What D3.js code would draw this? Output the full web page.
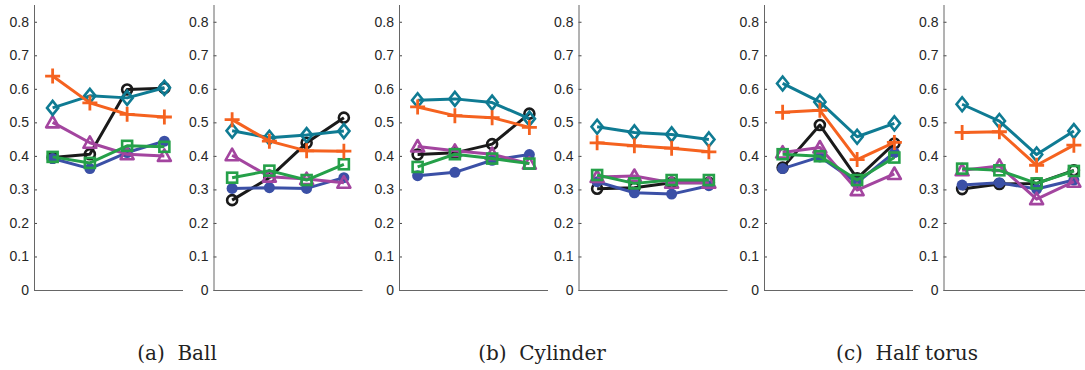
<!DOCTYPE html>
<html>
<head>
<meta charset="utf-8">
<script src="https://cdn.jsdelivr.net/npm/d3@7"></script>
<style>
  body { margin: 0; background: #fff; }
  svg { display: block; }
</style>
</head>
<body>
<div class="small-multiples"></div>
<script>
// data: one array per series, 6 panels x 4 points
const captions = ["(a)  Ball", "(b)  Cylinder", "(c)  Half torus"];
const yTicks = [0, 0.1, 0.2, 0.3, 0.4, 0.5, 0.6, 0.7, 0.8];
const xPoints = [1, 2, 3, 4];

const blackCircle = [
  [0.395, 0.405, 0.598, 0.602],
  [0.268, 0.335, 0.439, 0.514],
  [0.404, 0.409, 0.435, 0.526],
  [0.302, 0.305, 0.320, 0.320],
  [0.365, 0.492, 0.333, 0.437],
  [0.301, 0.316, 0.318, 0.357]
];
const blueDot = [
  [0.392, 0.362, 0.410, 0.444],
  [0.303, 0.305, 0.303, 0.335],
  [0.341, 0.351, 0.387, 0.404],
  [0.323, 0.290, 0.286, 0.311],
  [0.362, 0.397, 0.320, 0.410],
  [0.313, 0.320, 0.301, 0.328]
];
const purpleTriangle = [
  [0.500, 0.439, 0.405, 0.400],
  [0.402, 0.338, 0.331, 0.320],
  [0.428, 0.415, 0.405, 0.377],
  [0.337, 0.340, 0.320, 0.320],
  [0.410, 0.425, 0.298, 0.346],
  [0.357, 0.370, 0.271, 0.323]
];
const greenSquare = [
  [0.397, 0.379, 0.430, 0.427],
  [0.335, 0.356, 0.328, 0.375],
  [0.367, 0.405, 0.392, 0.377],
  [0.343, 0.318, 0.328, 0.328],
  [0.405, 0.399, 0.328, 0.395],
  [0.362, 0.357, 0.318, 0.355]
];
const tealDiamond = [
  [0.543, 0.579, 0.573, 0.603],
  [0.475, 0.454, 0.462, 0.474],
  [0.566, 0.570, 0.559, 0.511],
  [0.487, 0.470, 0.464, 0.449],
  [0.616, 0.561, 0.457, 0.497],
  [0.554, 0.504, 0.404, 0.474]
];
const orangePlus = [
  [0.638, 0.558, 0.524, 0.516],
  [0.508, 0.444, 0.415, 0.414],
  [0.546, 0.520, 0.514, 0.485],
  [0.439, 0.430, 0.423, 0.412],
  [0.530, 0.536, 0.389, 0.440],
  [0.470, 0.472, 0.372, 0.432]
];

// drawing order, bottom first
const series = [
  {values: blackCircle, color: '#1a1a1a', marker: 'circle'},
  {values: blueDot, color: '#3b50a6', marker: 'dot'},
  {values: purpleTriangle, color: '#a3459f', marker: 'triangle'},
  {values: greenSquare, color: '#25a049', marker: 'square'},
  {values: tealDiamond, color: '#0f7b93', marker: 'diamond'},
  {values: orangePlus, color: '#f5621f', marker: 'plus'}
];

const W = 1085, H = 370;
const panelW = 149, plotTop = 5, plotBottom = 290;

const svg = d3.select('.small-multiples')
    .append('svg')
    .attr('width', W)
    .attr('height', H);

const x = d3.scaleLinear().domain([0.5, 4.5]).range([0, panelW]);
const y = d3.scaleLinear().domain([0, 0.85]).range([plotBottom, plotTop]);

const line = d3.line()
    .x((d, i) => x(xPoints[i]))
    .y((d) => y(d));

function panelLeft(p) {
  const g = Math.floor(p / 2);
  return 34 + g * 365 + (p % 2) * 179.5;
}

function drawMarker(sel, type, color) {
  const sw = 2.6;
  switch (type) {
    case 'circle':
      sel.append('circle').attr('r', 5).attr('fill', 'none')
        .attr('stroke', color).attr('stroke-width', sw);
      break;
    case 'dot':
      sel.append('circle').attr('r', 5.5).attr('fill', color);
      break;
    case 'triangle':
      sel.append('path').attr('d', 'M0,-6.5L6.5,5L-6.5,5Z').attr('fill', 'none')
        .attr('stroke', color).attr('stroke-width', sw).attr('stroke-linejoin', 'round');
      break;
    case 'square':
      sel.append('rect').attr('x', -5).attr('y', -5).attr('width', 10).attr('height', 10)
        .attr('fill', 'none').attr('stroke', color).attr('stroke-width', sw);
      break;
    case 'diamond':
      sel.append('path').attr('d', 'M0,-7L5.6,0L0,7L-5.6,0Z').attr('fill', 'none')
        .attr('stroke', color).attr('stroke-width', sw);
      break;
    case 'plus':
      sel.append('path').attr('d', 'M-7.5,0H7.5M0,-7.5V7.5').attr('fill', 'none')
        .attr('stroke', color).attr('stroke-width', 2.8);
      break;
  }
}

for (let p = 0; p < 6; p++) {
  const g = svg.append('g')
      .attr('transform', `translate(${panelLeft(p)},0)`);

  // y axis
  const yAxis = d3.axisLeft(y)
      .tickValues(yTicks)
      .tickSize(-3)
      .tickPadding(5)
      .tickFormat((d) => d === 0 ? '0' : d3.format('.1f')(d));

  g.append('g')
      .attr('class', 'axis y-axis')
      .call(yAxis)
      .call(g => g.select('.domain').remove())
      .call(g => g.selectAll('.tick line').attr('stroke', '#444'))
      .call(g => g.selectAll('.tick text')
        .attr('fill', '#262626')
        .attr('font-family', 'Liberation Sans, Arial, sans-serif')
        .attr('font-size', 14));

  g.append('line')
      .attr('x1', 0.5).attr('x2', 0.5)
      .attr('y1', plotTop).attr('y2', plotBottom)
      .attr('stroke', '#666').attr('stroke-width', 1);
  g.append('line')
      .attr('x1', 0).attr('x2', panelW)
      .attr('y1', plotBottom + 0.5).attr('y2', plotBottom + 0.5)
      .attr('stroke', '#666').attr('stroke-width', 1);

  series.forEach((s) => {
    const vals = s.values[p];
    g.append('path')
        .datum(vals)
        .attr('fill', 'none')
        .attr('stroke', s.color)
        .attr('stroke-width', 3)
        .attr('stroke-linejoin', 'round')
        .attr('d', line);

    g.append('g')
        .selectAll('g')
        .data(vals)
        .enter()
        .append('g')
        .attr('transform', (d, i) => `translate(${x(xPoints[i])},${y(d)})`)
        .each(function() { drawMarker(d3.select(this), s.marker, s.color); });
  });
}

// captions under each pair of panels
svg.append('g')
    .selectAll('text')
    .data(captions)
    .enter()
    .append('text')
    .attr('x', (d, i) => 34 + i * 365 + 143)
    .attr('y', 360)
    .attr('text-anchor', 'middle')
    .attr('font-family', 'DejaVu Serif, serif')
    .attr('font-size', 20)
    .attr('fill', '#222')
    .style('white-space', 'pre')
    .text((d) => d);
</script>
</body>
</html>
